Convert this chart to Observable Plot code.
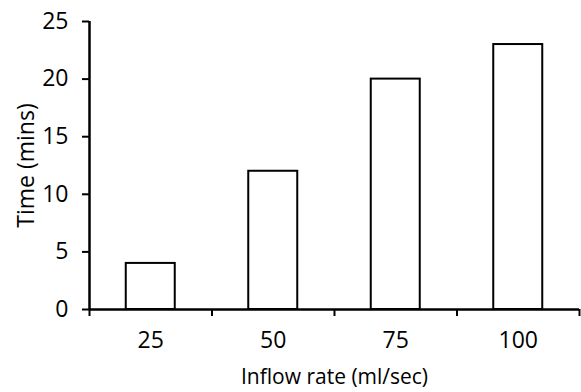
<!DOCTYPE html>
<html>
<head>
<meta charset="utf-8">
<script src="https://cdn.jsdelivr.net/npm/d3@7"></script>
<script src="https://cdn.jsdelivr.net/npm/@observablehq/plot@0.6"></script>
<style>
  html, body { margin: 0; padding: 0; background: #fff; }
  svg { display: block; }
</style>
</head>
<body>
<div id="chart"></div>
<script>
const categories = ["25", "50", "75", "100"];
const times = [4, 12, 20, 23];
const yTicks = [0, 5, 10, 15, 20, 25];

const data = categories.map((c, i) => ({cat: c, i, value: times[i]}));
const boundaries = d3.range(categories.length + 1);

const chart = Plot.plot({
  width: 581,
  height: 392,
  marginLeft: 89,
  marginRight: 2,
  marginTop: 21,
  marginBottom: 83,
  style: {fontFamily: "'Open Sans', sans-serif", fontSize: "22px", color: "#000", background: "#fff"},
  x: {type: "linear", domain: [0, categories.length]},
  y: {domain: [0, 25]},
  marks: [
    Plot.rectY(data, {
      x1: d => d.i + 0.3,
      x2: d => d.i + 0.7,
      y: "value",
      fill: "white",
      stroke: "black",
      strokeWidth: 2
    }),
    Plot.axisY({
      ticks: yTicks,
      tickSize: 7,
      tickPadding: 14,
      strokeWidth: 2,
      fontSize: 23,
      label: "Time (mins)",
      labelAnchor: "center",
      labelArrow: "none",
      labelOffset: 72
    }),
    Plot.axisX({
      ticks: boundaries,
      tickSize: 7,
      strokeWidth: 2,
      fontSize: 21,
      tickFormat: () => "",
      label: "Inflow rate (ml/sec)",
      labelAnchor: "center",
      labelArrow: "none",
      labelOffset: 74
    }),
    Plot.text(data, {
      x: d => d.i + 0.5,
      y: 0,
      text: "cat",
      dy: 31,
      fontSize: 23,
      fill: "black"
    }),
    Plot.ruleX([0], {y1: 0, y2: 25, strokeWidth: 2.5, stroke: "black"}),
    Plot.ruleY([0], {x1: 0, x2: categories.length, strokeWidth: 2.5, stroke: "black"})
  ]
});
document.getElementById("chart").appendChild(chart);
</script>
</body>
</html>
